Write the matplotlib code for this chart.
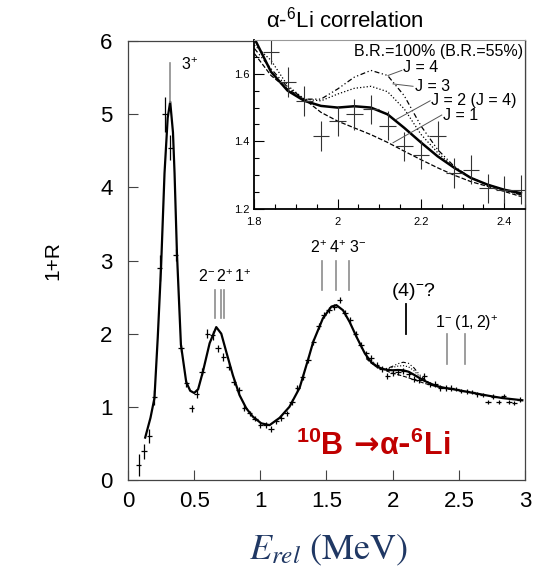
import matplotlib
matplotlib.use('Agg')
import matplotlib.pyplot as plt

plt.rcParams['font.family'] = ['Liberation Sans', 'DejaVu Sans']
plt.rcParams['mathtext.fontset'] = 'custom'
plt.rcParams['mathtext.rm'] = 'Liberation Sans'
plt.rcParams['mathtext.it'] = 'Liberation Sans:italic'
plt.rcParams['mathtext.bf'] = 'Liberation Sans:bold'

# ---------------- main panel data ----------------
data_x = [0.08, 0.12, 0.16, 0.20, 0.24, 0.28, 0.32, 0.36, 0.40, 0.44, 0.48, 0.52,
          0.56, 0.60, 0.64, 0.68, 0.72, 0.76, 0.80, 0.84, 0.88, 0.92, 0.96, 1.00,
          1.04, 1.08, 1.12, 1.16, 1.20, 1.24, 1.28, 1.32, 1.36, 1.40, 1.44, 1.48,
          1.52, 1.56, 1.60, 1.64, 1.68, 1.72, 1.76, 1.80,
          1.84, 1.88, 1.92, 1.96, 2.00, 2.04, 2.08, 2.12, 2.16, 2.20, 2.24, 2.28,
          2.32, 2.36, 2.40, 2.44,
          2.48, 2.52, 2.56, 2.60, 2.64, 2.68, 2.72, 2.76, 2.80, 2.84, 2.88, 2.92, 2.96]
data_y = [0.20, 0.39, 0.60, 1.13, 2.90, 5.00, 4.54, 3.08, 1.80, 1.32, 0.98, 1.18,
          1.48, 2.00, 1.98, 1.80, 1.68, 1.55, 1.34, 1.23, 0.98, 0.91, 0.84, 0.75,
          0.75, 0.70, 0.80, 0.85, 0.91, 1.07, 1.26, 1.41, 1.64, 1.89, 2.10, 2.25,
          2.32, 2.37, 2.46, 2.28, 2.19, 2.00, 1.84, 1.73,
          1.665, 1.575, 1.52, 1.416, 1.46, 1.48, 1.495, 1.446, 1.386, 1.361, 1.416, 1.306,
          1.316, 1.262, 1.257, 1.257,
          1.24, 1.22, 1.21, 1.20, 1.17, 1.16, 1.07, 1.14, 1.07, 1.15, 1.07, 1.05, 1.10]
data_yerr = [0.15, 0.10, 0.10, 0.10, 0.18, 0.24, 0.17, 0.08, 0.05, 0.05, 0.05, 0.06,
             0.05, 0.06, 0.06, 0.05, 0.05, 0.05, 0.04, 0.04, 0.04, 0.04, 0.04, 0.04,
             0.04, 0.04, 0.04, 0.04, 0.04, 0.04, 0.04, 0.04, 0.04, 0.04, 0.04, 0.04,
             0.04, 0.04, 0.04, 0.04, 0.04, 0.04, 0.04, 0.04,
             0.04, 0.04, 0.04, 0.04, 0.04, 0.04, 0.04, 0.04, 0.04, 0.04, 0.04, 0.04,
             0.04, 0.04, 0.04, 0.04,
             0.03, 0.03, 0.03, 0.03, 0.03, 0.03, 0.03, 0.03, 0.03, 0.03, 0.03, 0.03, 0.03]

fit_x = [0.13, 0.17, 0.20, 0.225, 0.25, 0.276, 0.30, 0.319, 0.34, 0.352, 0.37, 0.40,
         0.44, 0.47, 0.50, 0.53, 0.566, 0.617, 0.667, 0.705, 0.743, 0.793, 0.843, 0.894,
         0.944, 1.007, 1.07, 1.146, 1.22, 1.297, 1.36, 1.40, 1.473, 1.537, 1.575, 1.625,
         1.675, 1.726, 1.79,
         1.84, 1.88, 1.92, 1.96, 2.00, 2.04, 2.08, 2.12, 2.16, 2.20, 2.24, 2.28, 2.32,
         2.36, 2.40, 2.44, 2.58, 2.73, 2.83, 2.98]
fit_y = [0.58, 0.85, 1.12, 1.95, 2.91, 4.19, 4.95, 5.17, 4.75, 4.19, 3.10, 1.85,
         1.34, 1.22, 1.19, 1.24, 1.48, 1.87, 2.09, 2.00, 1.75, 1.43, 1.16, 0.98,
         0.865, 0.775, 0.75, 0.85, 1.00, 1.26, 1.64, 1.89, 2.21, 2.37, 2.39, 2.32,
         2.16, 1.96, 1.73,
         1.606, 1.55, 1.52, 1.505, 1.50, 1.504, 1.50, 1.48, 1.44, 1.397, 1.356, 1.322, 1.292,
         1.272, 1.257, 1.247, 1.20, 1.15, 1.12, 1.09]

# state markers
state_labels = ['$3^{+}$', '$2^{-}\\,2^{+}\\,1^{+}$', '$2^{+}\\;4^{+}\\;3^{-}$',
                '$(4)^{-}?$', '$1^{-}\\;(1,2)^{+}$']
state_label_x = [0.40, 0.728, 1.59, 2.155, 2.56]
state_label_y = [5.68, 2.78, 3.17, 2.57, 2.14]
marker_x = [0.32, 0.654, 0.705, 0.722, 1.466, 1.570, 1.670, 2.104, 2.414, 2.543]
marker_y0 = [5.16, 2.21, 2.21, 2.21, 2.60, 2.60, 2.60, 2.00, 1.59, 1.59]
marker_y1 = [5.70, 2.60, 2.60, 2.60, 3.00, 3.00, 3.00, 2.40, 2.00, 2.00]

# ---------------- inset data ----------------
ins_x = [1.84, 1.88, 1.92, 1.96, 2.00, 2.04, 2.08, 2.12, 2.16, 2.20, 2.24, 2.28,
         2.32, 2.36, 2.40, 2.44]
ins_y = [1.665, 1.575, 1.52, 1.416, 1.46, 1.48, 1.495, 1.446, 1.386, 1.361, 1.416, 1.306,
         1.316, 1.262, 1.257, 1.257]
ins_yerr = [0.037, 0.045, 0.045, 0.045, 0.045, 0.045, 0.043, 0.043, 0.043, 0.043, 0.045,
            0.045, 0.043, 0.043, 0.040, 0.043]

curve_x = [1.80, 1.84, 1.88, 1.92, 1.96, 2.00, 2.04, 2.08, 2.12, 2.16, 2.20, 2.24,
           2.28, 2.32, 2.36, 2.40, 2.44]
curve_j2 = [1.705, 1.606, 1.55, 1.52, 1.505, 1.50, 1.504, 1.50, 1.48, 1.44, 1.397, 1.356,
            1.322, 1.292, 1.272, 1.257, 1.247]
curve_j1 = [1.66, 1.595, 1.555, 1.525, 1.486, 1.46, 1.44, 1.42, 1.397, 1.371, 1.346, 1.322,
            1.30, 1.281, 1.267, 1.252, 1.237]
curve_j3 = [1.685, 1.64, 1.565, 1.525, 1.52, 1.54, 1.557, 1.563, 1.547, 1.496, 1.421, 1.367,
            1.322, 1.292, 1.272, 1.257, 1.242]
curve_j4 = [1.675, 1.615, 1.56, 1.525, 1.525, 1.555, 1.59, 1.61, 1.595, 1.535, 1.446, 1.376,
            1.326, 1.292, 1.272, 1.257, 1.242]

j_labels = ['J = 4', 'J = 3', 'J = 2 (J = 4)', 'J = 1']
j_text_x = [2.157, 2.185, 2.225, 2.253]
j_text_y = [1.620, 1.563, 1.520, 1.476]
j_lead_x0 = [2.121, 2.133, 2.141, 2.133]
j_lead_y0 = [1.595, 1.570, 1.465, 1.396]
j_lead_x1 = [2.154, 2.181, 2.222, 2.250]
j_lead_y1 = [1.610, 1.563, 1.520, 1.478]

ls_j4 = (0, (4, 2, 1, 2, 1, 2))

fig = plt.figure(figsize=(5.46, 5.72), dpi=100)
ax = fig.add_axes([0.2344, 0.1608, 0.7271, 0.7675])

for sp in ax.spines.values():
    sp.set_color('#444444')
    sp.set_linewidth(0.9)

ax.plot(curve_x, curve_j1, color='black', lw=0.8, ls='--')
ax.plot(curve_x, curve_j3, color='black', lw=0.8, ls=':')
ax.plot(curve_x, curve_j4, color='black', lw=0.8, ls=ls_j4)
ax.plot(fit_x, fit_y, color='black', lw=1.6)
ax.errorbar(data_x, data_y, yerr=data_yerr, xerr=0.02, fmt='none', ecolor='black',
            elinewidth=0.9, capsize=0)

for i, (mx, y0, y1) in enumerate(zip(marker_x, marker_y0, marker_y1)):
    if i == 7:
        ax.plot([mx, mx], [y0, y1], color='black', lw=1.3)
    else:
        ax.plot([mx, mx], [y0, y1], color='#8c8c8c', lw=1.2)

sizes = [11.5, 11.5, 11.5, 14, 11.5]
has = ['left', 'center', 'center', 'center', 'center']
for lab, lx, ly, s, ha in zip(state_labels, state_label_x, state_label_y, sizes, has):
    ax.text(lx, ly, lab, fontsize=s, ha=ha, va='center', color='black')

ax.set_xlim(0, 3)
ax.set_ylim(0, 6)
ax.set_xticks([0, 0.5, 1, 1.5, 2, 2.5, 3])
ax.set_xticklabels(['0', '0.5', '1', '1.5', '2', '2.5', '3'])
ax.set_yticks([0, 1, 2, 3, 4, 5, 6])
ax.tick_params(direction='in', length=7, width=0.8, labelsize=16, color='#444444')
ax.tick_params(axis='x', pad=8)
ax.tick_params(axis='y', pad=11)
ax.set_ylabel('1+R', fontsize=15)
ax.yaxis.set_label_coords(-0.165, 0.5)

# inset
ins = fig.add_axes([0.4658, 0.6346, 0.4958, 0.2955])
ins.set_xlim(1.8, 2.45)
ins.set_ylim(1.2, 1.7)
ins.plot(curve_x, curve_j1, color='black', lw=0.9, ls='--')
ins.plot(curve_x, curve_j3, color='black', lw=0.9, ls=':')
ins.plot(curve_x, curve_j4, color='black', lw=0.9, ls=ls_j4)
ins.plot(curve_x, curve_j2, color='black', lw=1.8)
ins.errorbar(ins_x, ins_y, yerr=ins_yerr, xerr=0.02, fmt='none', ecolor='#333333',
             elinewidth=0.8, capsize=0)
ins.set_xticks([1.8, 2.0, 2.2, 2.4])
ins.set_xticklabels(['1.8', '2', '2.2', '2.4'])
ins.set_xticks([1.85, 1.9, 1.95, 2.05, 2.1, 2.15, 2.25, 2.3, 2.35, 2.45], minor=True)
ins.set_yticks([1.2, 1.4, 1.6])
ins.set_yticks([1.25, 1.3, 1.35, 1.45, 1.5, 1.55, 1.65], minor=True)
ins.tick_params(which='major', direction='in', length=7, width=0.8, labelsize=8)
ins.tick_params(which='minor', direction='in', length=3.5, width=0.8)
ins.tick_params(axis='x', pad=6)
ins.spines['left'].set_linewidth(1.3)
ins.spines['bottom'].set_linewidth(1.3)
ins.spines['top'].set_color('#999999')
ins.spines['top'].set_linewidth(0.8)
ins.spines['right'].set_color('#444444')
ins.spines['right'].set_linewidth(0.9)

ins.text(2.445, 1.665, 'B.R.=100% (B.R.=55%)', fontsize=11.5, ha='right', va='center')
for lab, tx, ty, x0, y0, x1, y1 in zip(j_labels, j_text_x, j_text_y, j_lead_x0, j_lead_y0,
                                       j_lead_x1, j_lead_y1):
    ins.text(tx, ty, lab, fontsize=11.5, ha='left', va='center')
    ins.plot([x0, x1], [y0, y1], color='#555555', lw=0.7)

fig.text(0.632, 0.966, 'α-$^{6}$Li correlation', fontsize=16, ha='center', va='center')

fig.text(0.601, 0.038, r'$E_{rel}\ \mathrm{(MeV)}$', fontsize=26, ha='center', va='center',
         color='#203864', math_fontfamily='stix')

fig.text(0.683, 0.222, r'$\mathbf{{}^{10}B}$ →$\mathbf{\alpha}$-$\mathbf{{}^{6}Li}$',
         fontsize=22, fontweight='bold', ha='center', va='center', color='#c00000',
         family=['DejaVu Sans'])

fig.savefig('out.png', dpi=100)
